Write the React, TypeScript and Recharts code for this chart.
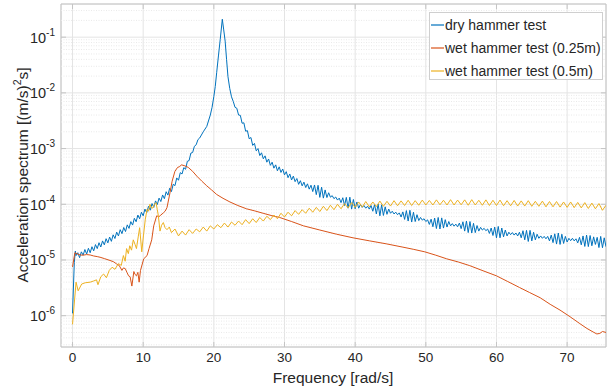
import {
  LineChart,
  Line,
  XAxis,
  YAxis,
  CartesianGrid,
  ReferenceLine,
  ReferenceArea,
  Legend,
} from 'recharts'

// [frequency rad/s, spectrum (m/s)^2 s]
const dryHammer: [number, number][] = [
  [0, 1.1e-6], [0.25, 9e-6], [0.4, 1.45e-5], [0.5, 1.2e-5], [0.75, 1.35e-5], [1, 1.1e-5],
  [1.25, 1.4e-5], [1.5, 1.22e-5], [1.75, 1.54e-5], [2, 1.28e-5], [2.25, 1.62e-5], [2.5, 1.35e-5],
  [2.75, 1.73e-5], [3, 1.46e-5], [3.25, 1.89e-5], [3.5, 1.6e-5], [3.75, 2.04e-5], [4, 1.71e-5],
  [4.25, 2.2e-5], [4.5, 1.87e-5], [4.75, 2.41e-5], [5, 2.03e-5], [5.25, 2.58e-5], [5.5, 2.16e-5],
  [5.75, 2.83e-5], [6, 2.43e-5], [6.25, 3.16e-5], [6.5, 2.7e-5], [6.75, 3.5e-5], [7, 2.97e-5],
  [7.25, 3.83e-5], [7.5, 3.24e-5], [7.75, 4.27e-5], [8, 3.69e-5], [8.25, 4.88e-5], [8.5, 4.23e-5],
  [8.75, 5.6e-5], [9, 4.86e-5], [9.25, 6.4e-5], [9.5, 5.49e-5], [9.75, 7.2e-5], [10, 6.21e-5],
  [10.25, 8.2e-5], [10.5, 7.02e-5], [10.75, 9.2e-5], [11, 7.83e-5], [11.25, 1.03e-4], [11.5, 8.8e-5],
  [11.75, 1.15e-4], [12, 9.9e-5], [12.25, 1.29e-4], [12.5, 1.12e-4], [12.75, 1.47e-4], [13, 1.26e-4],
  [13.25, 1.68e-4], [13.5, 1.46e-4], [13.75, 1.94e-4], [14, 1.69e-4], [14.25, 2.29e-4], [14.5, 2.16e-4],
  [14.75, 2.97e-4], [15, 2.7e-4], [15.25, 3.7e-4], [15.5, 3.5e-4], [15.75, 4.55e-4], [16, 4.25e-4],
  [16.25, 5.9e-4], [16.5, 6.1e-4], [16.75, 8.3e-4], [17, 8.5e-4], [17.25, 1.1e-3], [17.5, 1.17e-3],
  [17.75, 1.45e-3], [18, 1.55e-3], [18.5, 2.0e-3], [19, 2.5e-3], [19.5, 4.0e-3], [19.75, 5.5e-3],
  [20, 8.6e-3], [20.2, 1.3e-2], [20.4, 2.3e-2], [20.65, 4.6e-2], [20.9, 9.0e-2], [21.2, 2.1e-1],
  [21.4, 1.35e-1], [21.6, 8.5e-2], [21.8, 4.0e-2], [22, 1.95e-2], [22.25, 1.2e-2], [22.5, 8.5e-3],
  [22.75, 7.0e-3], [23, 5.5e-3], [23.25, 5.3e-3], [23.5, 4.0e-3], [23.75, 3.95e-3], [24, 2.85e-3],
  [24.25, 2.9e-3], [24.5, 2.05e-3], [24.75, 2.1e-3], [25, 1.5e-3], [25.25, 1.58e-3], [25.5, 1.14e-3],
  [25.75, 1.24e-3], [26, 9.1e-4], [26.25, 1.0e-3], [26.5, 7.5e-4], [26.75, 8.4e-4], [27, 6.55e-4],
  [27.25, 7.4e-4], [27.5, 5.7e-4], [27.75, 6.5e-4], [28, 5.0e-4], [28.25, 5.7e-4], [28.5, 4.45e-4],
  [28.75, 5.1e-4], [29, 4.0e-4], [29.25, 4.7e-4], [29.5, 3.73e-4], [29.75, 4.3e-4], [30, 3.37e-4],
  [30.25, 3.85e-4], [30.5, 3.0e-4], [30.75, 3.5e-4], [31, 2.73e-4], [31.25, 3.2e-4], [31.5, 2.55e-4],
  [31.75, 2.9e-4], [32, 2.28e-4], [32.25, 2.65e-4], [32.5, 2.14e-4], [32.75, 2.5e-4], [33, 2.0e-4],
  [33.25, 2.33e-4], [33.5, 1.87e-4], [33.75, 2.2e-4], [34, 1.69e-4], [34.25, 2.22e-4], [34.5, 1.49e-4],
  [34.75, 2.19e-4], [35, 1.33e-4], [35.25, 2.03e-4], [35.5, 1.29e-4], [35.75, 1.81e-4], [36, 1.32e-4],
  [36.25, 1.61e-4], [36.5, 1.34e-4], [36.75, 1.43e-4], [37, 1.26e-4], [37.25, 1.35e-4], [37.5, 1.19e-4],
  [37.75, 1.29e-4], [38, 1.07e-4], [38.25, 1.31e-4], [38.5, 9.5e-5], [38.75, 1.33e-4], [39, 8.5e-5],
  [39.25, 1.34e-4], [39.5, 8.2e-5], [39.75, 1.22e-4], [40, 8.3e-5], [40.25, 1.1e-4], [40.5, 8.5e-5],
  [40.75, 9.9e-5], [41, 8.8e-5], [41.25, 9.5e-5], [41.5, 8.5e-5], [41.75, 9.2e-5], [42, 8.2e-5],
  [42.25, 9.5e-5], [42.5, 7.5e-5], [42.75, 9.9e-5], [43, 6.7e-5], [43.25, 1.01e-4], [43.5, 6.2e-5],
  [43.75, 9.8e-5], [44, 6.3e-5], [44.25, 9.0e-5], [44.5, 6.6e-5], [44.75, 8.2e-5], [45, 6.9e-5],
  [45.25, 7.5e-5], [45.5, 6.7e-5], [45.75, 7.2e-5], [46, 6.5e-5], [46.25, 7.0e-5], [46.5, 5.9e-5],
  [46.75, 7.3e-5], [47, 5.35e-5], [47.25, 7.7e-5], [47.5, 5.0e-5], [47.75, 7.8e-5], [48, 4.8e-5],
  [48.25, 7.2e-5], [48.5, 4.9e-5], [48.75, 6.5e-5], [49, 5.1e-5], [49.25, 5.8e-5], [49.5, 5.2e-5],
  [49.75, 5.5e-5], [50, 4.9e-5], [50.25, 5.25e-5], [50.5, 4.35e-5], [50.75, 5.4e-5], [51, 3.95e-5],
  [51.25, 5.65e-5], [51.5, 3.67e-5], [51.75, 5.8e-5], [52, 3.6e-5], [52.25, 5.7e-5], [52.5, 3.74e-5],
  [52.75, 5.3e-5], [53, 3.9e-5], [53.25, 4.9e-5], [53.5, 4.1e-5], [53.75, 4.5e-5], [54, 4.05e-5],
  [54.25, 4.4e-5], [54.5, 3.95e-5], [54.75, 4.6e-5], [55, 3.65e-5], [55.25, 4.85e-5], [55.5, 3.3e-5],
  [55.75, 5.0e-5], [56, 3.1e-5], [56.25, 4.9e-5], [56.5, 3.05e-5], [56.75, 4.55e-5], [57, 3.1e-5],
  [57.25, 4.15e-5], [57.5, 3.3e-5], [57.75, 3.85e-5], [58, 3.45e-5], [58.25, 3.7e-5], [58.5, 3.35e-5],
  [58.75, 3.6e-5], [59, 3.0e-5], [59.25, 3.75e-5], [59.5, 2.75e-5], [59.75, 3.9e-5], [60, 2.5e-5],
  [60.25, 4.0e-5], [60.5, 2.5e-5], [60.75, 3.75e-5], [61, 2.6e-5], [61.25, 3.45e-5], [61.5, 2.7e-5],
  [61.75, 3.15e-5], [62, 2.85e-5], [62.25, 3.1e-5], [62.5, 2.8e-5], [62.75, 3.05e-5], [63, 2.7e-5],
  [63.25, 3.15e-5], [63.5, 2.5e-5], [63.75, 3.35e-5], [64, 2.3e-5], [64.25, 3.4e-5], [64.5, 2.15e-5],
  [64.75, 3.4e-5], [65, 2.2e-5], [65.25, 3.15e-5], [65.5, 2.3e-5], [65.75, 2.9e-5], [66, 2.45e-5],
  [66.25, 2.7e-5], [66.5, 2.45e-5], [66.75, 2.65e-5], [67, 2.4e-5], [67.25, 2.65e-5], [67.5, 2.2e-5],
  [67.75, 2.8e-5], [68, 2.05e-5], [68.25, 2.95e-5], [68.5, 1.93e-5], [68.75, 3.05e-5], [69, 1.9e-5],
  [69.25, 2.9e-5], [69.5, 1.98e-5], [69.75, 2.65e-5], [70, 2.1e-5], [70.25, 2.45e-5], [70.5, 2.22e-5],
  [70.75, 2.45e-5], [71, 2.2e-5], [71.25, 2.4e-5], [71.5, 2.03e-5], [71.75, 2.55e-5], [72, 1.87e-5],
  [72.25, 2.7e-5], [72.5, 1.75e-5], [72.75, 2.8e-5], [73, 1.74e-5], [73.25, 2.75e-5], [73.5, 1.8e-5],
  [73.75, 2.6e-5], [74, 1.9e-5], [74.25, 2.55e-5], [74.5, 1.67e-5], [74.75, 2.65e-5], [75, 1.66e-5],
  [75.25, 2.5e-5], [75.5, 1.73e-5],
]

const wetHammer025: [number, number][] = [
  [0, 7.5e-6], [0.33, 1.35e-5], [0.7, 1.28e-5], [1.08, 1.23e-5], [1.5, 1.22e-5], [2, 1.25e-5],
  [2.5, 1.23e-5], [3, 1.18e-5], [3.5, 1.15e-5], [3.9, 1.12e-5], [4.5, 1.06e-5], [5.3, 9.8e-6],
  [5.8, 9.3e-6], [6.24, 8.5e-6], [6.6, 8.0e-6], [6.99, 6.5e-6], [7.2, 7.2e-6], [7.46, 7.0e-6],
  [7.7, 6.0e-6], [7.93, 5.2e-6], [8.15, 5.0e-6], [8.4, 3.4e-6], [8.68, 6.2e-6], [8.85, 5.5e-6],
  [9.05, 5.2e-6], [9.25, 6.0e-6], [9.43, 4.0e-6], [9.62, 6.5e-6], [10.08, 1.05e-5], [10.55, 1.2e-5],
  [10.83, 1.6e-5], [11.21, 2.3e-5], [11.49, 4.1e-5], [11.91, 6.2e-5], [12.24, 6.0e-5], [12.5, 6.4e-5],
  [12.85, 7.0e-5], [13.1, 7.5e-5], [13.37, 8.7e-5], [13.79, 1.6e-4], [14.1, 2.6e-4], [14.49, 3.9e-4],
  [14.87, 4.6e-4], [15.1, 4.7e-4], [15.43, 5.1e-4], [15.9, 4.9e-4], [16.37, 4.6e-4], [17, 3.9e-4],
  [17.59, 3.2e-4], [18.3, 2.6e-4], [18.99, 2.15e-4], [19.7, 1.8e-4], [20.4, 1.5e-4], [21.3, 1.28e-4],
  [22.28, 1.1e-4], [23.4, 9.5e-5], [24.62, 8.3e-5], [25.8, 7.6e-5], [26.97, 6.9e-5], [28.1, 6.3e-5],
  [29.31, 5.8e-5], [31, 4.9e-5], [32.69, 4.1e-5], [35, 3.45e-5], [37.38, 2.9e-5], [39.7, 2.5e-5],
  [42.07, 2.2e-5], [44.4, 1.95e-5], [46.76, 1.7e-5], [48.3, 1.55e-5], [49.86, 1.4e-5], [51.4, 1.22e-5],
  [52.95, 1.05e-5], [54.6, 9.2e-6], [56.23, 7.9e-6], [58.1, 6.4e-6], [59.99, 5.2e-6], [61.6, 4.1e-6],
  [63.27, 3.2e-6], [64.7, 2.6e-6], [66.18, 2.1e-6], [67.6, 1.6e-6], [68.99, 1.26e-6], [70.4, 9.6e-7],
  [71.8, 7.2e-7], [72.8, 5.9e-7], [73.68, 5.1e-7], [74.2, 4.7e-7], [74.62, 4.8e-7], [75, 5.2e-7],
  [75.5, 5.0e-7],
]

const wetHammer05: [number, number][] = [
  [0, 7e-7], [0.5, 4.0e-6], [0.8, 2.8e-6], [1.3, 3.7e-6], [1.8, 3.9e-6], [2.5, 4.0e-6],
  [3, 4.2e-6], [3.4, 4.4e-6], [3.6, 3.6e-6], [4, 5.0e-6], [4.4, 5.6e-6], [4.8, 4.8e-6],
  [5.2, 6.5e-6], [5.6, 7.4e-6], [6, 6.8e-6], [6.5, 8.6e-6], [6.9, 8.0e-6], [7.2, 1.2e-5],
  [7.45, 9.5e-6], [7.65, 1.6e-5], [7.9, 1.3e-5], [8.1, 1.8e-5], [8.35, 1.5e-5], [8.6, 2.3e-5],
  [8.85, 1.9e-5], [9.05, 1.6e-5], [9.3, 2.6e-5], [9.5, 3.8e-5], [9.8, 1.4e-5], [10.05, 2.8e-5],
  [10.3, 5.4e-5], [10.55, 8.1e-5], [10.75, 7.5e-5], [10.95, 1.0e-4], [11.2, 8.5e-5], [11.4, 8.7e-5],
  [11.6, 1.0e-4], [11.82, 1.07e-4], [12, 8.0e-5], [12.15, 6.2e-5], [12.38, 3.3e-5], [12.6, 4.2e-5],
  [12.85, 4.7e-5], [13.1, 3.8e-5], [13.37, 3.5e-5], [13.7, 3.9e-5],
  [14, 3.1e-5], [14.5, 3.6e-5], [15, 2.7e-5], [15.5, 3.3e-5], [16, 2.8e-5], [16.5, 3.5e-5],
  [17, 3.0e-5], [17.5, 3.6e-5], [18, 3.2e-5], [18.5, 3.9e-5], [19, 3.3e-5], [19.5, 4.1e-5],
  [20, 3.6e-5], [20.5, 4.3e-5], [21, 3.8e-5], [21.5, 4.6e-5], [22, 3.9e-5], [22.5, 4.8e-5],
  [23, 4.2e-5], [23.5, 5.0e-5], [24, 4.3e-5], [24.5, 5.3e-5], [25, 4.5e-5], [25.5, 5.5e-5],
  [26, 4.7e-5], [26.5, 5.8e-5], [27, 5.0e-5], [27.5, 6.1e-5], [28, 5.3e-5], [28.5, 6.4e-5],
  [29, 5.5e-5], [29.5, 6.9e-5], [30, 5.9e-5], [30.5, 7.2e-5], [31, 6.2e-5], [31.5, 7.7e-5],
  [32, 6.6e-5], [32.5, 8.0e-5], [33, 6.9e-5], [33.5, 8.5e-5], [34, 7.2e-5], [34.5, 8.8e-5],
  [35, 7.4e-5], [35.5, 9.2e-5], [36, 7.7e-5], [36.5, 9.6e-5], [37, 8.0e-5], [37.5, 1.0e-4],
  [38, 8.3e-5], [38.5, 1.03e-4], [39, 8.6e-5], [39.5, 1.07e-4], [40, 8.8e-5], [40.5, 1.1e-4],
  [41, 8.9e-5], [41.5, 1.12e-4], [42, 9.0e-5], [42.5, 1.1e-4], [43, 9.1e-5], [43.5, 1.14e-4],
  [44, 9.2e-5], [44.5, 1.13e-4], [45, 9.3e-5], [45.5, 1.16e-4], [46, 9.4e-5], [46.5, 1.15e-4],
  [47, 9.5e-5], [47.5, 1.18e-4], [48, 9.5e-5], [48.5, 1.16e-4], [49, 9.6e-5], [49.5, 1.19e-4],
  [50, 9.7e-5], [50.5, 1.17e-4], [51, 9.7e-5], [51.5, 1.2e-4], [52, 9.8e-5], [52.5, 1.18e-4],
  [53, 9.7e-5], [53.5, 1.21e-4], [54, 9.7e-5], [54.5, 1.19e-4], [55, 9.8e-5], [55.5, 1.2e-4],
  [56, 9.6e-5], [56.5, 1.21e-4], [57, 9.7e-5], [57.5, 1.18e-4], [58, 9.6e-5], [58.5, 1.2e-4],
  [59, 9.5e-5], [59.5, 1.18e-4], [60, 9.5e-5], [60.5, 1.19e-4], [61, 9.4e-5], [61.5, 1.16e-4],
  [62, 9.4e-5], [62.5, 1.17e-4], [63, 9.3e-5], [63.5, 1.15e-4], [64, 9.3e-5], [64.5, 1.16e-4],
  [65, 9.2e-5], [65.5, 1.13e-4], [66, 9.2e-5], [66.5, 1.14e-4], [67, 9.0e-5], [67.5, 1.12e-4],
  [68, 9.0e-5], [68.5, 1.12e-4], [69, 8.9e-5], [69.5, 1.1e-4], [70, 8.8e-5], [70.5, 1.1e-4],
  [71, 8.7e-5], [71.5, 1.08e-4], [72, 8.6e-5], [72.5, 1.07e-4], [73, 8.4e-5], [73.5, 1.05e-4],
  [74, 8.3e-5], [74.5, 1.03e-4], [75, 7.8e-5], [75.5, 9.6e-5],
]

const xTicks = [0, 10, 20, 30, 40, 50, 60, 70]
const yTicks = [1e-6, 1e-5, 1e-4, 1e-3, 1e-2, 1e-1]
const minorSteps = [2, 3, 4, 5, 6, 7, 8, 9]
const minorDecades = [1e-7, 1e-6, 1e-5, 1e-4, 1e-3, 1e-2, 1e-1]

const X_DOMAIN: [number, number] = [-1.63, 75.5]
const Y_DOMAIN: [number, number] = [2.74e-7, 0.394]

const FONT = '"Liberation Sans", Arial, Helvetica, sans-serif'
const BOX = { left: 61, right: 606, top: 4, bottom: 347 }
const AXIS_GRAY = '#c4c4c4'
const TEXT = '#262626'

const series = [
  { name: 'dry hammer test', color: '#0072BD', points: dryHammer },
  { name: 'wet hammer test (0.25m)', color: '#D95319', points: wetHammer025 },
  { name: 'wet hammer test (0.5m)', color: '#EDB120', points: wetHammer05 },
]

const minorGrid = minorDecades
  .flatMap((d) => minorSteps.map((m) => m * d))
  .filter((v) => v > Y_DOMAIN[0] && v < Y_DOMAIN[1])

function XTick({ x, payload }: any) {
  return (
    <g>
      <line x1={x} x2={x} y1={BOX.bottom} y2={BOX.bottom - 5} stroke={AXIS_GRAY} />
      <line x1={x} x2={x} y1={BOX.top} y2={BOX.top + 5} stroke={AXIS_GRAY} />
      <text x={x} y={362} textAnchor="middle" fontSize={13.5} fill={TEXT} fontFamily={FONT}>
        {payload.value}
      </text>
    </g>
  )
}

function YTick({ y, payload }: any) {
  const exp = Math.round(Math.log10(payload.value))
  return (
    <g>
      <line x1={BOX.left} x2={BOX.left + 5} y1={y} y2={y} stroke={AXIS_GRAY} />
      <line x1={BOX.right} x2={BOX.right - 5} y1={y} y2={y} stroke={AXIS_GRAY} />
      <text x={55} y={y + 5.5} textAnchor="end" fill={TEXT} fontFamily={FONT} fontSize={14.5}>
        10
        <tspan dy={-7} fontSize={10}>
          {`-${Math.abs(exp)}`}
        </tspan>
      </text>
    </g>
  )
}

function YLabel() {
  const cx = 22
  const cy = 175
  return (
    <text
      x={cx}
      y={cy}
      transform={`rotate(-90 ${cx} ${cy})`}
      textAnchor="middle"
      dominantBaseline="central"
      fontSize={15.5}
      fill={TEXT}
      fontFamily={FONT}
    >
      Acceleration spectrum [(m/s)
      <tspan dy={-5} fontSize={10.5}>2</tspan>
      <tspan dy={5}>s]</tspan>
    </text>
  )
}

function XLabel() {
  return (
    <text x={333} y={383} textAnchor="middle" fontSize={15.5} fill={TEXT} fontFamily={FONT}>
      Frequency [rad/s]
    </text>
  )
}

function LegendBox() {
  return (
    <div
      style={{
        width: 172,
        height: 66,
        border: '1px solid #cfcfcf',
        background: '#fff',
        fontFamily: FONT,
        fontSize: 14,
        color: TEXT,
        boxSizing: 'content-box',
      }}
    >
      {series.map((s) => (
        <div key={s.name} style={{ height: 23, display: 'flex', alignItems: 'center', whiteSpace: 'nowrap' }}>
          <svg width={14} height={10} style={{ marginLeft: 1 }}>
            <line x1={0} x2={13} y1={5} y2={5} stroke={s.color} strokeWidth={1.2} />
          </svg>
          <span>{s.name}</span>
        </div>
      ))}
    </div>
  )
}

export default function App() {
  return (
    <div style={{ position: 'absolute', left: 0, top: 0, width: 607, height: 390, background: '#fff' }}>
      <LineChart width={607} height={390} margin={{ top: 4, right: 1, bottom: 0, left: 0 }}>
        <CartesianGrid stroke="#e4e4e4" strokeWidth={1} />
        {minorGrid.map((v) => (
          <ReferenceLine key={v} y={v} stroke="#e9e9e9" strokeDasharray="1 1.5" />
        ))}
        <XAxis
          type="number"
          dataKey="f"
          domain={X_DOMAIN}
          ticks={xTicks}
          allowDataOverflow
          height={43}
          axisLine={false}
          tickLine={false}
          tick={<XTick />}
          label={<XLabel />}
        />
        <YAxis
          type="number"
          scale="log"
          domain={Y_DOMAIN}
          ticks={yTicks}
          allowDataOverflow
          width={61}
          axisLine={false}
          tickLine={false}
          tick={<YTick />}
          label={<YLabel />}
        />
        <ReferenceArea
          x1={X_DOMAIN[0]}
          x2={X_DOMAIN[1]}
          y1={Y_DOMAIN[0]}
          y2={Y_DOMAIN[1]}
          fill="none"
          stroke={AXIS_GRAY}
          strokeWidth={1}
          fillOpacity={0}
        />
        {series.map((s) => (
          <Line
            key={s.name}
            name={s.name}
            data={s.points.map(([f, v]) => ({ f, v }))}
            dataKey="v"
            type="linear"
            stroke={s.color}
            strokeWidth={1}
            dot={false}
            activeDot={false}
            isAnimationActive={false}
          />
        ))}
        <Legend
          layout="vertical"
          align="center"
          verticalAlign="middle"
          content={<LegendBox />}
          wrapperStyle={{ left: 429, top: 12, width: 174, height: 68 }}
        />
      </LineChart>
    </div>
  )
}
